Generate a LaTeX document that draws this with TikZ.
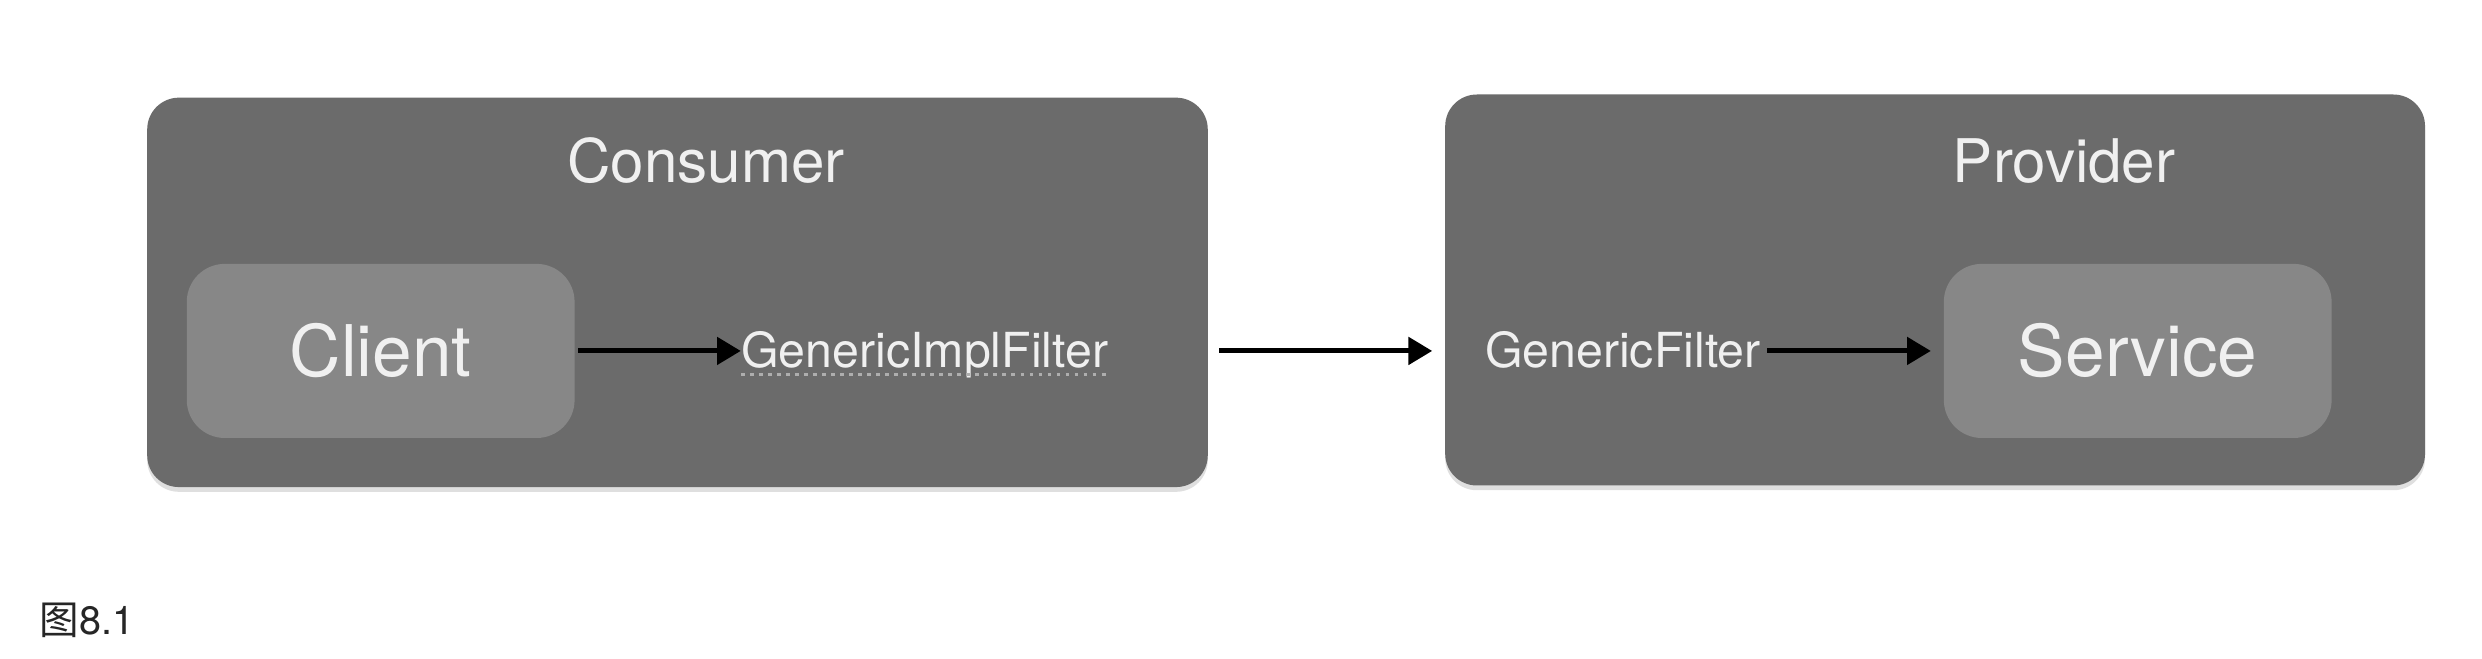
\documentclass[tikz,border=0pt]{standalone}
\usepackage{fontspec}
\setmainfont{TeX Gyre Heros}
\newfontfamily\cjkfont{Noto Sans CJK SC}
\usetikzlibrary{arrows.meta,shadows}
\definecolor{outerbox}{HTML}{6B6B6B}
\definecolor{innerbox}{HTML}{878787}
\definecolor{labeltext}{HTML}{F0F0F0}
\begin{document}
\begin{tikzpicture}[x=1pt,y=1pt,
  container/.style={fill=outerbox, draw=none, rounded corners=20pt, inner sep=0pt,
    drop shadow={opacity=0.25, shadow xshift=0pt, shadow yshift=-3pt}},
  component/.style={fill=innerbox, draw=none, rounded corners=24pt, inner sep=0pt,
    minimum width=245pt, minimum height=110pt, text=labeltext,
    font=\fontsize{45}{50}\selectfont},
  title/.style={text=labeltext, inner sep=0pt, font=\fontsize{38}{42}\selectfont},
  filtertext/.style={text=labeltext, inner sep=0pt, font=\fontsize{30.5}{34}\selectfont},
  flow/.style={draw=black, line width=3.2pt, -{Triangle[length=15pt,width=17pt]}}
]
\useasboundingbox (0,0) rectangle (1568,415.7);
\fill[white] (0,0) rectangle (1568,415.7);

% containers
\node[container, minimum width=670pt, minimum height=246pt] (consumer) at (428,231) {};
\node[container, minimum width=619pt, minimum height=247pt] (provider) at (1222.5,232.5) {};

% titles
\node[title] (consumerlbl) at (446,314) {Consumer};
\node[title] (providerlbl) at (1304,314) {Provider};

% components
\node[component] (client) at (240.5,194) {Client};
\node[component] (service) at (1350.5,194) {Service};

% filter labels
\node[filtertext, anchor=base west] (impl) at (468,183.5) {GenericImplFilter};
\node[filtertext, anchor=base west] (generic) at (938,183.5) {GenericFilter};

% spell-check style dotted underline under GenericImplFilter
\draw[draw=white!45!outerbox, line width=1.8pt, dash pattern=on 2.4pt off 3.3pt]
  ([yshift=-4.5pt]impl.base west) -- ([yshift=-4.5pt]impl.base east);

% connectors
\draw[flow] ([xshift=2pt]client.east) -- (client.east -| impl.west);
\draw[flow, shorten <=7pt, shorten >=8pt] (consumer.east |- client.east) -- (provider.west |- client.east);
\draw[flow, shorten <=4pt, shorten >=8pt] (generic.east |- service.west) -- (service.west);

% caption
\node[anchor=west, inner sep=0pt, text=black!85, font=\fontsize{25}{28}\selectfont] (caption) at (25,24) {{\cjkfont 图}8.1};
\end{tikzpicture}
\end{document}
